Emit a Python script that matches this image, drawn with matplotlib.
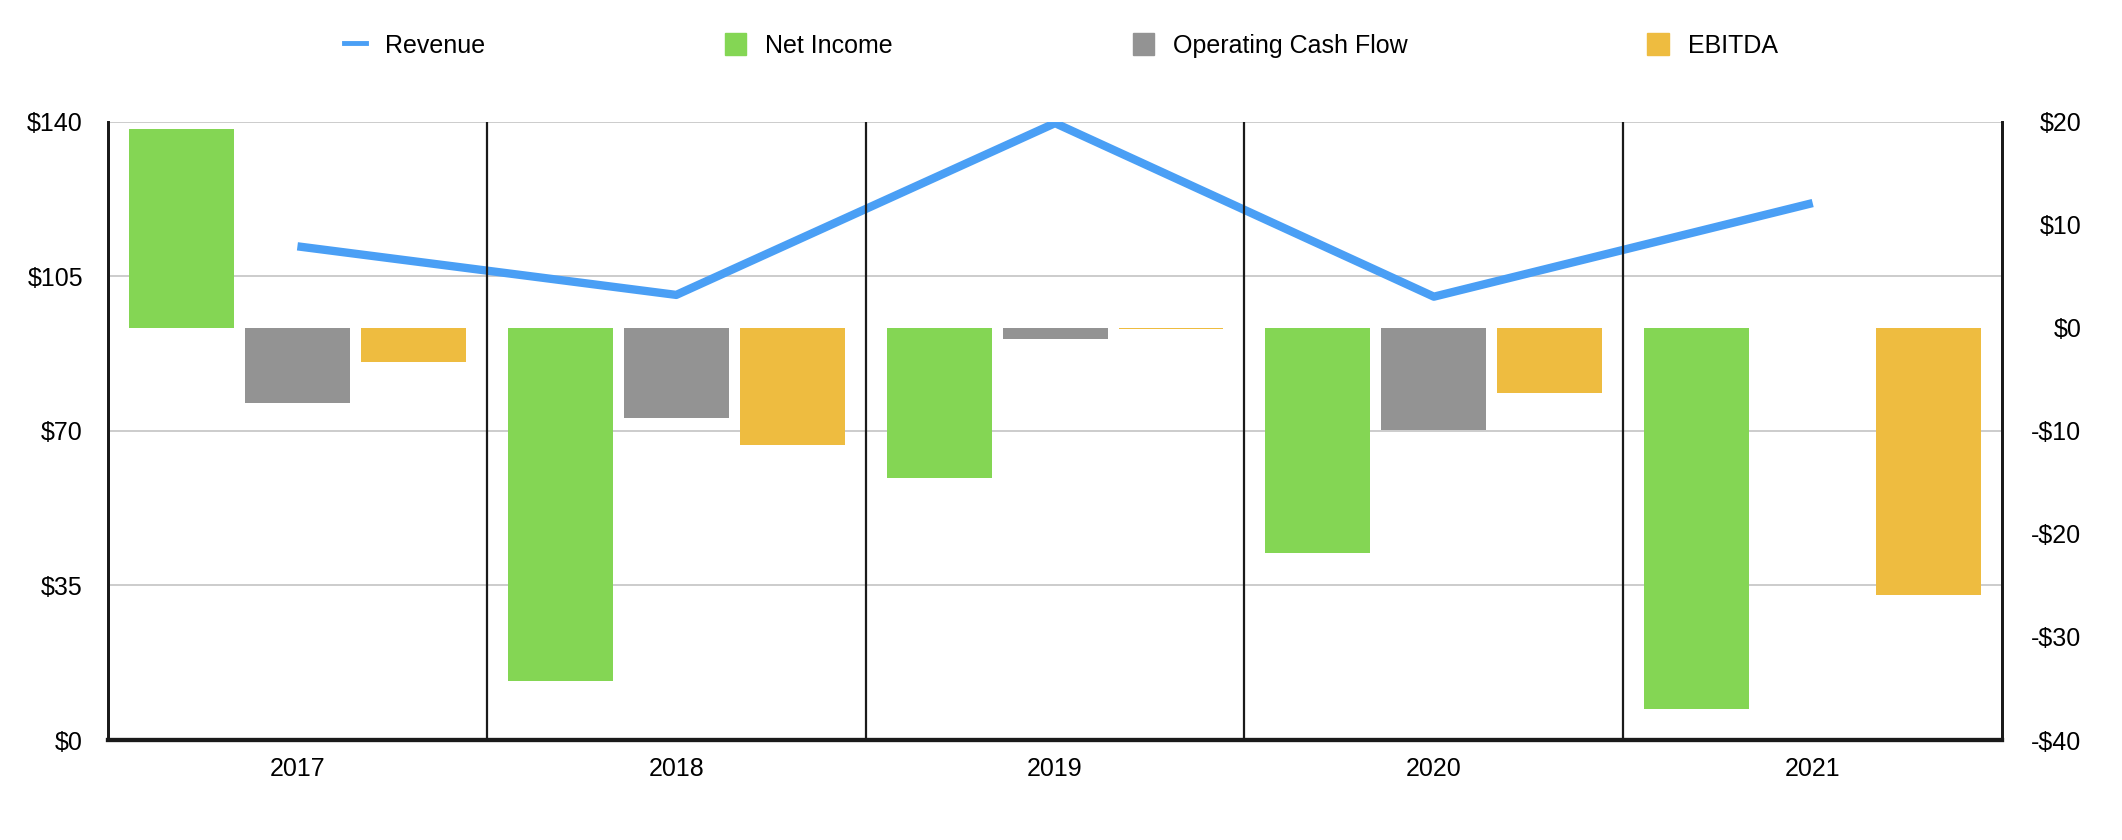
import numpy as np
import matplotlib.pyplot as plt
from matplotlib.lines import Line2D
from matplotlib.patches import Patch

plt.rcParams['font.family'] = ['Liberation Sans', 'DejaVu Sans']

years = ['2017', '2018', '2019', '2020', '2021']
revenue = [111.8, 100.8, 139.7, 100.4, 121.6]
net_income = [19.3, -34.3, -14.6, -21.8, -37.0]
op_cash_flow = [-7.3, -8.7, -1.1, -9.9, 0.0]
ebitda = [-3.3, -11.4, -0.15, -6.3, -25.9]

left_ticks = [0, 35, 70, 105, 140]
right_ticks = [-40, -30, -20, -10, 0, 10, 20]

c_rev = '#4a9ff5'
c_ni = '#84d654'
c_ocf = '#939393'
c_ebitda = '#eebc40'

fs = 18

fig = plt.figure(figsize=(21.22, 8.4), dpi=100)
ax = fig.add_axes([0.0509, 0.119, 0.8926, 0.736])
x = np.arange(len(years))

# revenue on the left scale, gridlines belong to it
ax.set_ylim(0, 140)
ax.set_yticks(left_ticks)
ax.set_yticklabels(['$%d' % v for v in left_ticks])
ax.grid(axis='y', color='#c4c4c4', linewidth=1.2)
ax.set_axisbelow(True)
ax.plot(x, revenue, color=c_rev, linewidth=6, solid_capstyle='butt')

# bars on the right scale
ax2 = ax.twinx()
w = 0.277
off = 0.306
ax2.bar(x - off, net_income, w, color=c_ni)
ax2.bar(x, op_cash_flow, w, color=c_ocf)
ax2.bar(x + off, ebitda, w, color=c_ebitda)
ax2.set_ylim(-40, 20)
ax2.set_yticks(right_ticks)
ax2.set_yticklabels([('-$%d' % -v) if v < 0 else '$%d' % v for v in right_ticks],
                    ha='right')

for a in (ax, ax2):
    a.set_xlim(-0.5, len(years) - 0.5)
    a.spines['top'].set_visible(False)
    for s in ('left', 'right'):
        a.spines[s].set_linewidth(2)
        a.spines[s].set_color('#1a1a1a')
    a.spines['bottom'].set_linewidth(3)
    a.spines['bottom'].set_color('#1a1a1a')

for b in np.arange(0.5, len(years) - 0.5, 1):
    ax.axvline(b, color='#1a1a1a', linewidth=1.6)

ax.set_xticks(x)
ax.set_xticklabels(years)
ax.tick_params(axis='x', length=0, pad=12, labelsize=fs)
ax.tick_params(axis='y', length=0, pad=18, labelsize=fs)
ax2.tick_params(axis='y', length=0, pad=57, labelsize=fs)

handles = [
    Line2D([], [], color=c_rev, linewidth=3.5),
    Patch(color=c_ni),
    Patch(color=c_ocf),
    Patch(color=c_ebitda),
]
labels = ['Revenue', 'Net Income', 'Operating Cash Flow', 'EBITDA']
fig.legend(handles, labels, loc='center', bbox_to_anchor=(0.5, 0.946), ncol=4,
           frameon=False, fontsize=fs, handlelength=0.85, handleheight=1.0,
           handletextpad=0.76, columnspacing=9.6)

fig.savefig('out.png', dpi=100)
